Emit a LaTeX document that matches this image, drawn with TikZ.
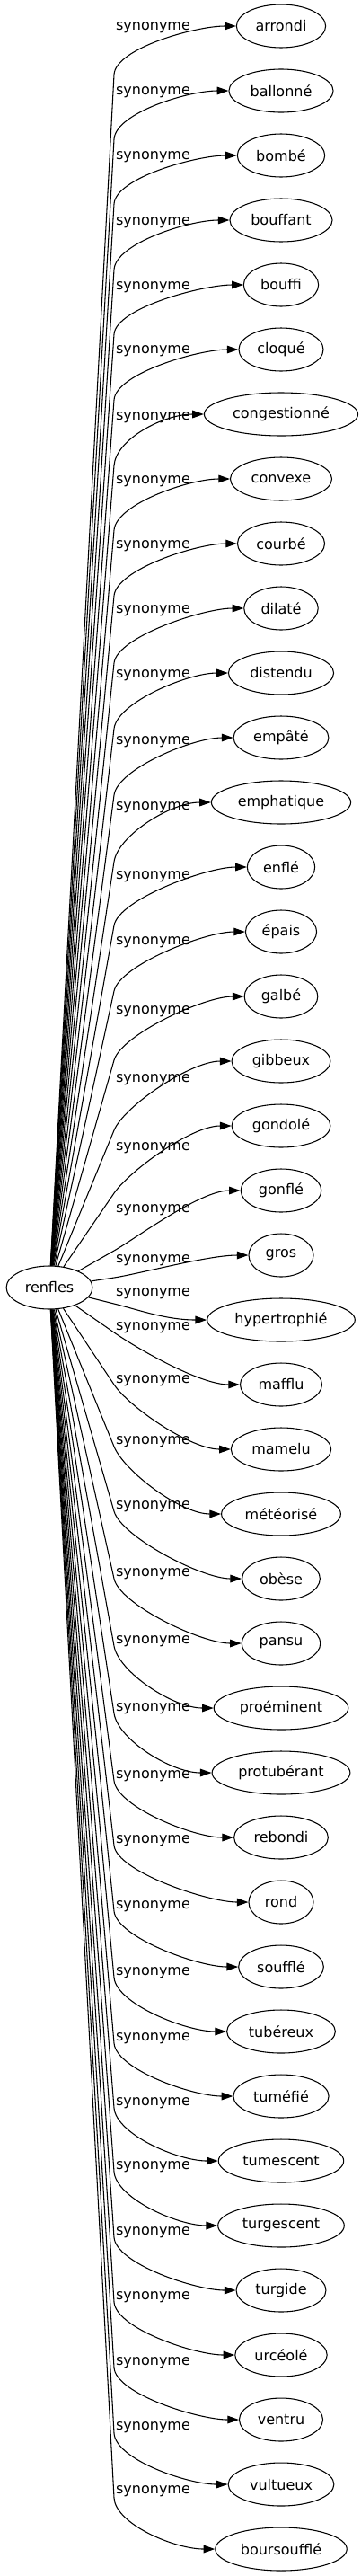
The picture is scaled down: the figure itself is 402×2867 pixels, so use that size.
\documentclass[tikz,border=0pt]{standalone}
\usepackage{fontspec}
\setmainfont{DejaVu Sans}
\usepackage{tikz}
\usetikzlibrary{shapes,arrows.meta,positioning,calc}

\begin{document}
\begin{tikzpicture}[x=0.75pt, y=-0.75pt,
    mot/.style={draw, ellipse, line width=0.8pt, minimum width=54pt, minimum height=36pt, inner xsep=5pt, font=\fontsize{12}{14}\selectfont},
    rel/.style={inner sep=0pt, font=\fontsize{12}{14}\selectfont},
    fleche/.style={line width=0.8pt, -{Triangle[length=9.5pt, width=6.5pt]}}]
    \useasboundingbox (0,0) rectangle (402,2867);

    % racine
    \node [mot] (renfles) at (55,1433) {renfles};

    % synonymes : mot / y du label / y du coude
    \foreach \word/\ly/\by [count=\i] in {arrondi/31/83, ballonné/103/155, bombé/175/227, bouffant/248/300,
        bouffi/320/372, cloqué/391/445, congestionné/465/518, convexe/536/590, courbé/608/663,
        dilaté/680/738, distendu/752/811, empâté/826/885, emphatique/899/959, enflé/976/1030,
        épais/1049/1103, galbé/1126/1180, gibbeux/1202/1258, gondolé/1278/1328, gonflé/1347/1392,
        gros/1403/1422, hypertrophié/1440/1451, mafflu/1478/1483, mamelu/1537/1541,
        météorisé/1605/1610, obèse/1677/1682, pansu/1752/1757, proéminent/1827/1832,
        protubérant/1902/1907, rebondi/1977/1982, rond/2049/2054, soufflé/2122/2127,
        tubéreux/2196/2201, tuméfié/2269/2274, tumescent/2341/2346, turgescent/2412/2417,
        turgide/2485/2490, urcéolé/2557/2562, ventru/2630/2635, vultueux/2702/2708,
        boursoufflé/2773/2780} {
        \pgfmathsetmacro{\ny}{72*\i-43}
        \node [mot] (n\i) at (313,\ny) {\word};
        \node [rel] (l\i) at (170.5,\ly) {synonyme};
        \coordinate (b\i) at (127,\by);
        \draw [fleche] (renfles) -- (b\i) .. controls ($(b\i)!-22pt!(renfles)$) and ($(n\i.west)+(-45,0)$) .. (n\i);
    }
\end{tikzpicture}
\end{document}
